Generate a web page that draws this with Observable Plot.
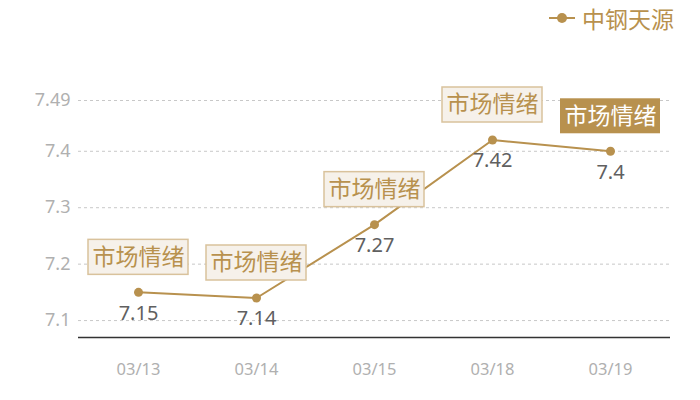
<!DOCTYPE html>
<html>
<head>
<meta charset="utf-8">
<script src="https://cdn.jsdelivr.net/npm/d3@7"></script>
<script src="https://cdn.jsdelivr.net/npm/@observablehq/plot@0.6"></script>
<style>
  body { margin: 0; background: #fff; font-family: "Noto Sans CJK SC", "Noto Sans", sans-serif; }
  #legend { height: 36px; display: flex; justify-content: flex-end; align-items: center; padding-right: 26px; box-sizing: border-box; }
  #legend span { color: #b8914e; font-size: 23px; margin-left: 6px; line-height: 1; }
</style>
</head>
<body>
<div id="legend">
  <svg width="28" height="12"><line x1="1" y1="6" x2="27" y2="6" stroke="#b8914e" stroke-width="2"/><circle cx="14" cy="6" r="5" fill="#b8914e"/></svg>
  <span>中钢天源</span>
</div>
<div id="chart"></div>
<script>
const dates = ["03/13", "03/14", "03/15", "03/18", "03/19"];
const values = [7.15, 7.14, 7.27, 7.42, 7.40];
const valueLabels = ["7.15", "7.14", "7.27", "7.42", "7.4"];
const sentiment = ["市场情绪", "市场情绪", "市场情绪", "市场情绪", "市场情绪"];
const highlighted = [false, false, false, false, true];
const yTicks = [7.1, 7.2, 7.3, 7.4, 7.49];
const yTickLabels = ["7.1", "7.2", "7.3", "7.4", "7.49"];

const data = dates.map((d, i) => ({
  date: d, value: values[i], label: valueLabels[i], tag: sentiment[i], hi: highlighted[i]
}));

const gold = "#b8914e";

const boxes = Plot.dot(data, {
  x: "date", y: "value",
  render(index, scales, values, dims, ctx) {
    const g = d3.create("svg:g");
    for (const i of index) {
      const cx = values.x[i], cy = values.y[i] - 35;
      const hi = data[i].hi;
      g.append("rect")
        .attr("x", cx - 50).attr("y", cy - 17.5)
        .attr("width", 100).attr("height", 35)
        .attr("fill", hi ? gold : "#f6f1ea")
        .attr("stroke", hi ? "none" : "#d9c29c")
        .attr("stroke-width", 1.5);
    }
    return g.node();
  }
});

const chart = Plot.plot({
  width: 700,
  height: 364,
  marginLeft: 78,
  marginRight: 30,
  marginTop: 64,
  marginBottom: 63,
  style: { fontFamily: "'Noto Sans', 'Noto Sans CJK SC', sans-serif", background: "#fff" },
  x: { type: "point", domain: dates, padding: 0.5, label: null },
  y: { domain: [7.07, 7.49], label: null },
  marks: [
    Plot.ruleY(yTicks, { stroke: "#c8c8c8", strokeDasharray: "3,3", strokeWidth: 1 }),
    Plot.ruleY([7.07], { stroke: "#333", strokeWidth: 1.5 }),
    Plot.axisY({ ticks: yTicks, tickFormat: (d, i) => yTickLabels[i], tickSize: 0, tickPadding: 8, fontSize: 18, color: "#b0b0b0" }),
    Plot.axisX({ tickSize: 0, tickPadding: 26, fontSize: 16.5, color: "#b0b0b0" }),
    Plot.line(data, { x: "date", y: "value", stroke: gold, strokeWidth: 2 }),
    Plot.dot(data, { x: "date", y: "value", r: 4.5, fill: gold }),
    Plot.text(data, { x: "date", y: "value", text: "label", dy: 21, fontSize: 20, fill: "#606060" }),
    boxes,
    Plot.text(data, { x: "date", y: "value", text: "tag", dy: -35, fontSize: 23, fontFamily: "Noto Sans CJK SC", fill: d => d.hi ? "#fff" : gold })
  ]
});
document.getElementById("chart").appendChild(chart);
</script>
</body>
</html>
